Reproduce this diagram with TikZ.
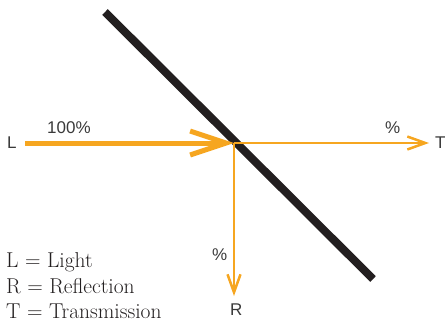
\documentclass[tikz,border=0pt]{standalone}
\usepackage{fontspec}
\setsansfont{Liberation Sans}
\usetikzlibrary{arrows.meta}
\definecolor{beam}{HTML}{F6A620}
\definecolor{mirror}{HTML}{231F20}
\definecolor{ink}{HTML}{3A3A3A}
\tikzset{
  lbl/.style={font=\sffamily\fontsize{17}{20}\selectfont,text=ink,inner sep=0pt,anchor=base west},
  key/.style={font=\rmfamily\fontsize{21.5}{24}\selectfont,text=mirror,inner sep=0pt,anchor=base west},
  ray/.style={beam,line width=2.5pt,-{Straight Barb[length=18pt,width=13pt]}},
  incident/.style={beam,line width=5pt,-{Straight Barb[length=36pt,width=24pt]}}
}
\begin{document}
\begin{tikzpicture}[x=1pt,y=-1pt]
  \useasboundingbox (0,0) rectangle (445,322);
  % the mirror
  \draw[mirror,line width=8pt] (105,12) -- (373,279);
  \coordinate (hit) at (234,143);
  \coordinate (src) at (25,143);
  \coordinate (tEnd) at (429,143);
  \coordinate (rEnd) at (234,296);
  \node[lbl] (L) at (7,148) {L};
  \node[lbl] (T) at (435,148) {T};
  \node[lbl] (R) at (230,315) {R};
  \node[lbl] (pctL) at (47,133) {100\%};
  \node[lbl] (pctT) at (385,133) {\%};
  \node[lbl] (pctR) at (212,260) {\%};
  \draw[incident] (src) -- (hit);
  \draw[ray] (hit) -- (tEnd);
  \draw[ray] (hit) -- (rEnd);
  % legend
  \foreach \n/\txt/\y in {l/{L = Light}/267,r/{R = Reflection}/293,t/{T = Transmission}/318}
    \node[key] (key\n) at (6,\y) {\txt};
\end{tikzpicture}
\end{document}
